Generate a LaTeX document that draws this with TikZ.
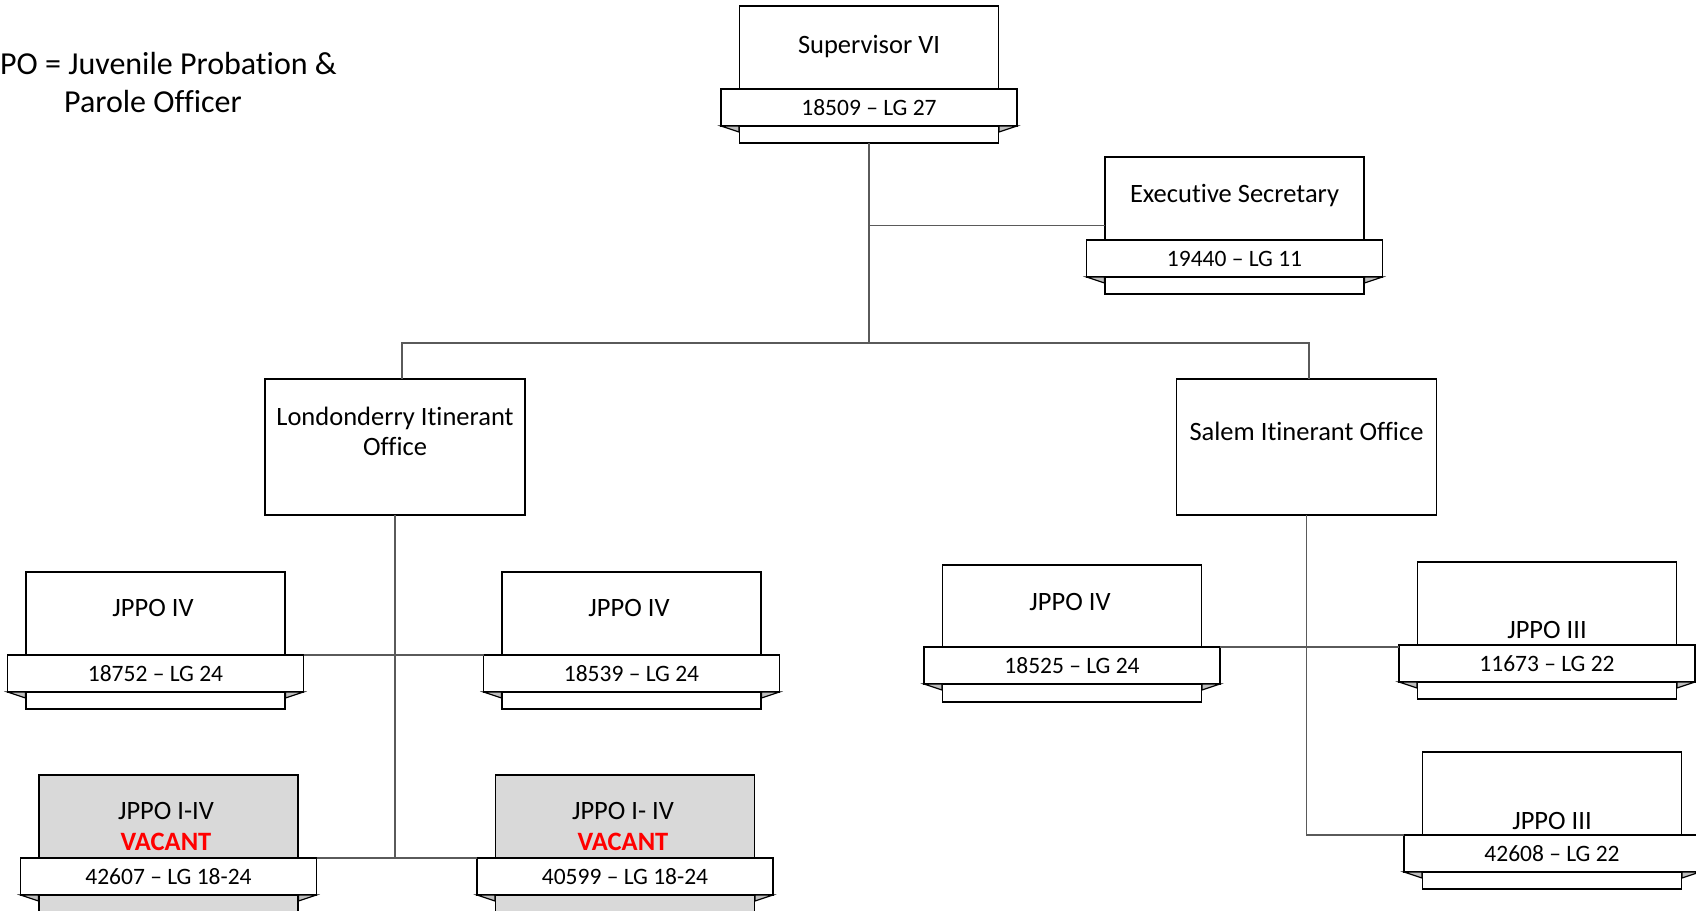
\documentclass[tikz,border=0pt]{standalone}
\usepackage{fontspec}
\setmainfont{Carlito}[Ligatures={TeX,NoCommon,NoContextual}, Contextuals=NoAlternate]
\usepackage{xcolor}
\usepackage{tikz}

\definecolor{vacantgray}{HTML}{D9D9D9}
\definecolor{foldgray}{HTML}{BFBFBF}
\definecolor{linkgray}{HTML}{5A5A5A}
\definecolor{vacantred}{HTML}{FF0000}

% the two little folds under the ends of a ribbon
\newcommand{\folds}[1]{%
  \filldraw[fold] (#1.south west) -- ++(18,0) -- ++(0,6) -- cycle;
  \filldraw[fold] (#1.south east) -- ++(-18,0) -- ++(0,6) -- cycle;}

\begin{document}
\begin{tikzpicture}[x=1pt,y=1pt,yscale=-1,xscale=1,
  post/.style={draw, line width=1.6pt, fill=white, minimum width=259pt, minimum height=137pt, inner sep=0pt, outer sep=0pt, anchor=north},
  vacantpost/.style={post, fill=vacantgray},
  ribbon/.style={draw, line width=1.6pt, fill=white, minimum width=296pt, minimum height=37pt, inner sep=0pt, outer sep=0pt, text height=15pt, text depth=0pt, font=\fontsize{23.5}{28}\selectfont},
  title/.style={anchor=base, inner sep=0pt, font=\fontsize{26.5}{30}\selectfont},
  legend/.style={anchor=base west, inner sep=0pt, font=\fontsize{32}{37}\selectfont},
  fold/.style={line width=1.2pt, fill=foldgray},
  link/.style={draw=linkgray, line width=1.1pt}]

\useasboundingbox (0,0) rectangle (1696,910);
\clip (0,0) rectangle (1696,910);

\node [legend] (key1) at (0,74) {PO = Juvenile Probation \&};

\node [legend] (key2) at (64,112) {Parole Officer};

% top of the chart
\node [post] (sup) at (869,6) {};
\node [ribbon] (supR) at (869,107.5) {18509 -- LG 27};
\folds{supR}
\node [title] (supT) at (869,53) {Supervisor VI};

\node [post] (exec) at (1234.5,157) {};
\node [ribbon] (execR) at (1234.5,258.5) {19440 -- LG 11};
\folds{execR}
\node [title] (execT) at (1234.5,202) {Executive Secretary};

% the two offices
\node [post, minimum width=260pt, minimum height=136pt] (lon) at (395,379) {};
\node [title] (lonT1) at (395,425) {Londonderry Itinerant};
\node [title] (lonT2) at (395,455) {Office};

\node [post, minimum width=260pt, minimum height=136pt] (sal) at (1306.5,379) {};
\node [title] (salT) at (1306.5,440) {Salem Itinerant Office};

% Londonderry staff
\node [post] (ivl) at (155.5,572) {};
\node [ribbon] (ivlR) at (155.5,673.5) {18752 -- LG 24};
\folds{ivlR}
\node [title] (ivlT) at (153,616.5) {JPPO IV};

\node [post] (ivm) at (631.5,572) {};
\node [ribbon] (ivmR) at (631.5,673.5) {18539 -- LG 24};
\folds{ivmR}
\node [title] (ivmT) at (629,616.5) {JPPO IV};

\node [vacantpost] (vl) at (168.5,775) {};
\node [ribbon] (vlR) at (168.5,876.5) {42607 -- LG 18-24};
\folds{vlR}
\node [title] (vlT) at (166,819) {JPPO I-IV};
\node [title, text=vacantred, font=\fontsize{26.5}{30}\selectfont\bfseries] (vlV) at (166,850) {VACANT};

\node [vacantpost] (vm) at (625,775) {};
\node [ribbon] (vmR) at (625,876.5) {40599 -- LG 18-24};
\folds{vmR}
\node [title] (vmT) at (623,819) {JPPO I- IV};
\node [title, text=vacantred, font=\fontsize{26.5}{30}\selectfont\bfseries] (vmV) at (623,850) {VACANT};

% Salem staff
\node [post] (ivr) at (1072,565) {};
\node [ribbon] (ivrR) at (1072,665.5) {18525 -- LG 24};
\folds{ivrR}
\node [title] (ivrT) at (1070,610.5) {JPPO IV};

\node [post] (iiia) at (1547,562) {};
\node [ribbon] (iiiaR) at (1547,663.5) {11673 -- LG 22};
\folds{iiiaR}
\node [title] (iiiaT) at (1547,638) {JPPO III};

\node [post] (iiib) at (1552,752) {};
\node [ribbon] (iiibR) at (1552,853.5) {42608 -- LG 22};
\folds{iiibR}
\node [title] (iiibT) at (1552,829) {JPPO III};

% connectors
\coordinate (bus) at (sup.south |- 0,343);

\draw [link] (sup.south) -- (bus);

\draw [link] (exec.west) -- (exec.west -| sup.south);

\draw [link] ([xshift=7pt]lon.north) |- (bus) -| ([xshift=2.5pt]sal.north);

\draw [link] (lon.south) -- (lon.south |- vlR.north);

\draw [link] (ivlR.north east) -- (ivmR.north west);

\draw [link] (vlR.north east) -- (vmR.north west);

\draw [link] (sal.south) |- (iiibR.north west);

\draw [link] (ivrR.north east) -- (iiiaR.north west |- ivrR.north east);

\end{tikzpicture}
\end{document}
